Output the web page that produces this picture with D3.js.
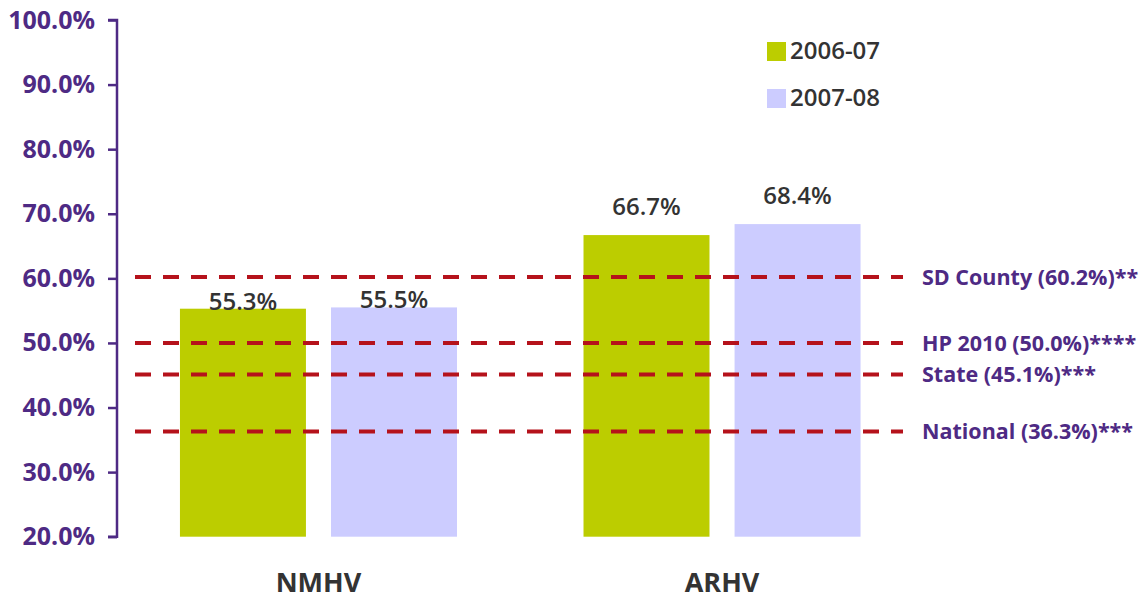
<!DOCTYPE html>
<html>
<head>
<meta charset="utf-8">
<script src="https://cdn.jsdelivr.net/npm/d3@7"></script>
<style>
  html, body { margin: 0; padding: 0; background: #fff; }
  svg { display: block; font-family: "Open Sans", "DejaVu Sans", sans-serif; }
</style>
</head>
<body>
<svg id="chart" width="1147" height="599"></svg>
<script>
// Program categories and the two school years compared
const categories = ["NMHV", "ARHV"];
const seriesNames = ["2006-07", "2007-08"];
const values2006 = [55.3, 66.7];
const values2007 = [55.5, 68.4];

// Benchmark rates drawn as dashed reference lines
const benchmarkNames = ["SD County", "HP 2010", "State", "National"];
const benchmarkValues = [60.2, 50.0, 45.1, 36.3];
const benchmarkMarks = ["**", "****", "***", "***"];

const yTicks = [20, 30, 40, 50, 60, 70, 80, 90, 100];

const colors = { "2006-07": "#bccd00", "2007-08": "#ccccff" };
const purple = "#4e2a84";
const darkText = "#333333";
const dashRed = "#b5121b";

const svg = d3.select("#chart");

const y = d3.scaleLinear().domain([20, 100]).range([536.7, 20]);

const x0 = d3.scaleBand()
  .domain(categories)
  .range([117, 923.5])
  .paddingInner(0.3135)
  .paddingOuter(0.156);

const x1 = d3.scaleBand()
  .domain(seriesNames)
  .range([0, x0.bandwidth()])
  .paddingInner(0.166)
  .paddingOuter(0);

const rows = categories.map((c, i) => ({
  category: c,
  bars: [
    { series: seriesNames[0], value: values2006[i] },
    { series: seriesNames[1], value: values2007[i] }
  ]
}));

// Bars
const groups = svg.append("g").selectAll("g")
  .data(rows)
  .join("g")
  .attr("transform", d => `translate(${x0(d.category)},0)`);

groups.selectAll("rect")
  .data(d => d.bars)
  .join("rect")
  .attr("x", d => x1(d.series))
  .attr("y", d => y(d.value))
  .attr("width", x1.bandwidth())
  .attr("height", d => y(20) - y(d.value))
  .attr("fill", d => colors[d.series]);

// Value labels above bars (the first group sits its labels on the bar tops)
groups.each(function (d, gi) {
  d3.select(this).selectAll("text.val")
    .data(d.bars)
    .join("text")
    .attr("class", "val")
    .attr("x", b => x1(b.series) + x1.bandwidth() / 2)
    .attr("y", b => y(b.value) + (gi === 0 ? 1 : -20))
    .attr("text-anchor", "middle")
    .attr("font-size", 24)
    .attr("font-weight", 600)
    .attr("fill", darkText)
    .text(b => b.value.toFixed(1) + "%");
});

// Dashed benchmark lines
const bench = benchmarkNames.map((n, i) => ({ name: n, value: benchmarkValues[i], mark: benchmarkMarks[i] }));

svg.append("g").selectAll("line")
  .data(bench)
  .join("line")
  .attr("x1", 135)
  .attr("x2", 903)
  .attr("y1", d => y(d.value))
  .attr("y2", d => y(d.value))
  .attr("stroke", dashRed)
  .attr("stroke-width", 4)
  .attr("stroke-dasharray", "16 12");

svg.append("g").selectAll("text")
  .data(bench)
  .join("text")
  .attr("x", 922)
  .attr("y", d => y(d.value))
  .attr("dy", "0.36em")
  .attr("font-size", 21.5)
  .attr("font-weight", 700)
  .attr("fill", purple)
  .text(d => `${d.name} (${d.value.toFixed(1)}%)${d.mark}`);

// Y axis
const yAxis = d3.axisLeft(y)
  .tickValues(yTicks)
  .tickSize(9)
  .tickPadding(13)
  .tickFormat(d => d.toFixed(1) + "%");

const yg = svg.append("g")
  .attr("transform", "translate(117,0)")
  .call(yAxis);
yg.select(".domain").attr("stroke", purple).attr("stroke-width", 2.5)
  .attr("d", `M-9,${y(100)}H0V${y(20)}H-9`);
yg.selectAll(".tick line").attr("stroke", purple).attr("stroke-width", 2.5);
yg.selectAll(".tick text")
  .attr("fill", purple)
  .attr("font-size", 25)
  .attr("font-weight", 700)
  .attr("font-family", "\"Open Sans\", sans-serif");

// Category labels
svg.append("g").selectAll("text")
  .data(categories)
  .join("text")
  .attr("x", d => x0(d) + x0.bandwidth() / 2)
  .attr("y", 592)
  .attr("text-anchor", "middle")
  .attr("font-size", 27)
  .attr("font-weight", 700)
  .attr("fill", darkText)
  .text(d => d);

// Legend
const legend = svg.append("g").attr("transform", "translate(767,42)");
const items = legend.selectAll("g")
  .data(seriesNames)
  .join("g")
  .attr("transform", (d, i) => `translate(0,${i * 47})`);
items.append("rect")
  .attr("width", 19).attr("height", 19)
  .attr("fill", d => colors[d]);
items.append("text")
  .attr("x", 23)
  .attr("y", 17)
  .attr("font-size", 24)
  .attr("font-weight", 600)
  .attr("fill", darkText)
  .text(d => d);
</script>
</body>
</html>
